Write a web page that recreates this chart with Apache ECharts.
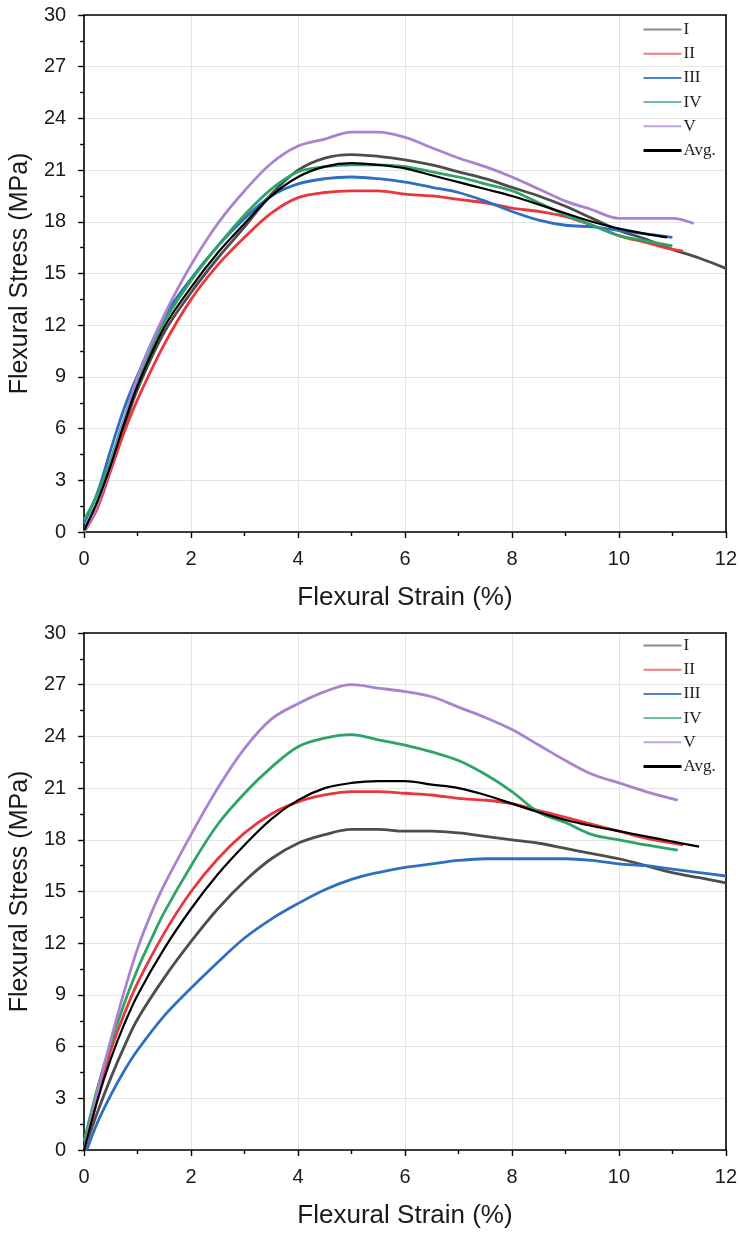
<!DOCTYPE html>
<html>
<head>
<meta charset="utf-8">
<script src="https://cdn.jsdelivr.net/npm/echarts@6/dist/echarts.min.js"></script>
<style>
html,body{margin:0;padding:0;background:#fff;}
#c{width:740px;height:1235px;}
</style>
</head>
<body>
<div id="c"></div>
<script>
// ---------- data ----------
const seriesNames = ['I', 'II', 'III', 'IV', 'V', 'Avg.'];
const xTicks = [0, 2, 4, 6, 8, 10, 12];
const yTicks = [0, 3, 6, 9, 12, 15, 18, 21, 24, 27, 30];

// Top panel: [strain %, stress MPa]
const top_I = [[0,0.1],[0.25,1.6],[0.5,3.7],[0.75,6.1],[1,8.3],[1.5,11.6],[2,13.9],[2.5,15.9],[3,17.7],[3.5,19.6],[4,21.0],[4.5,21.7],[5,21.9],[5.5,21.8],[6,21.6],[6.5,21.3],[7,20.9],[7.5,20.5],[8,20.0],[8.5,19.5],[9,18.9],[9.5,18.2],[10,17.5],[10.5,17.0],[11,16.4],[11.5,15.9],[12,15.3]];
const top_II = [[0,0],[0.25,1.4],[0.5,3.6],[0.75,5.8],[1,7.7],[1.5,10.9],[2,13.5],[2.5,15.5],[3,17.1],[3.5,18.5],[4,19.4],[4.5,19.7],[5,19.8],[5.5,19.8],[6,19.6],[6.5,19.5],[7,19.3],[7.5,19.1],[8,18.8],[8.5,18.6],[9,18.3],[9.5,17.8],[10,17.2],[10.5,16.8],[11,16.4],[11.2,16.3]];
const top_III = [[0,0.5],[0.25,2.3],[0.5,4.8],[0.75,7.2],[1,9.1],[1.5,12.5],[2,14.7],[2.5,16.6],[3,18.2],[3.5,19.5],[4,20.2],[4.5,20.5],[5,20.6],[5.5,20.5],[6,20.3],[6.5,20.0],[7,19.7],[7.5,19.2],[8,18.6],[8.5,18.1],[9,17.8],[9.5,17.7],[10,17.5],[10.5,17.3],[11,17.1]];
const top_IV = [[0,0.7],[0.25,2.2],[0.5,4.2],[0.75,6.6],[1,8.8],[1.5,12.2],[2,14.6],[2.5,16.6],[3,18.4],[3.5,19.9],[4,20.9],[4.5,21.2],[5,21.3],[5.5,21.3],[6,21.2],[6.5,20.9],[7,20.6],[7.5,20.2],[8,19.8],[8.5,19.1],[9,18.4],[9.5,17.8],[10,17.2],[10.5,16.9],[11,16.6]];
const top_V = [[0,0],[0.25,1.6],[0.5,3.9],[0.75,6.5],[1,9.0],[1.5,12.6],[2,15.5],[2.5,17.9],[3,19.8],[3.5,21.4],[4,22.4],[4.5,22.8],[5,23.2],[5.5,23.2],[6,22.9],[6.5,22.3],[7,21.7],[7.5,21.2],[8,20.6],[8.5,19.9],[9,19.2],[9.5,18.7],[10,18.2],[10.5,18.2],[11,18.2],[11.4,17.9]];
const top_avg = [[0,0.1],[0.25,1.8],[0.5,3.9],[0.75,6.3],[1,8.5],[1.5,11.9],[2,14.2],[2.5,16.2],[3,17.9],[3.5,19.5],[4,20.6],[4.5,21.2],[5,21.4],[5.5,21.3],[6,21.1],[6.5,20.7],[7,20.3],[7.5,19.9],[8,19.5],[8.5,19.0],[9,18.5],[9.5,18.0],[10,17.6],[10.5,17.3],[10.9,17.1]];

// Bottom panel
const bot_I = [[0,0],[0.25,2.2],[0.5,4.2],[0.75,6.0],[1,7.6],[1.5,10.0],[2,12.1],[2.5,14.0],[3,15.6],[3.5,16.9],[4,17.8],[4.5,18.3],[5,18.6],[5.5,18.6],[6,18.5],[6.5,18.5],[7,18.4],[7.5,18.2],[8,18.0],[8.5,17.8],[9,17.5],[9.5,17.2],[10,16.9],[10.5,16.5],[11,16.1],[11.5,15.8],[12,15.5]];
const bot_II = [[0,0],[0.25,3.0],[0.5,5.8],[0.75,7.9],[1,9.7],[1.5,12.6],[2,15.0],[2.5,16.9],[3,18.4],[3.5,19.5],[4,20.2],[4.5,20.6],[5,20.8],[5.5,20.8],[6,20.7],[6.5,20.6],[7,20.4],[7.5,20.3],[8,20.1],[8.5,19.7],[9,19.3],[9.5,18.9],[10,18.5],[10.5,18.1],[11,17.8],[11.2,17.7]];
const bot_III = [[0.05,0],[0.25,1.6],[0.5,3.2],[0.75,4.6],[1,5.8],[1.5,7.8],[2,9.4],[2.5,10.9],[3,12.3],[3.5,13.4],[4,14.3],[4.5,15.1],[5,15.7],[5.5,16.1],[6,16.4],[6.5,16.6],[7,16.8],[7.5,16.9],[8,16.9],[8.5,16.9],[9,16.9],[9.5,16.8],[10,16.6],[10.5,16.5],[11,16.3],[11.5,16.1],[12,15.9]];
const bot_IV = [[0,0.5],[0.25,3.6],[0.5,6.2],[0.75,8.5],[1,10.5],[1.25,12.2],[1.5,13.8],[2,16.5],[2.5,18.9],[3,20.7],[3.5,22.2],[4,23.4],[4.5,23.9],[5,24.1],[5.5,23.8],[6,23.5],[6.5,23.1],[7,22.6],[7.5,21.8],[8,20.8],[8.5,19.6],[9,19.0],[9.5,18.3],[10,18.0],[10.5,17.7],[11.1,17.4]];
const bot_V = [[0,0],[0.25,3.4],[0.5,6.4],[0.75,9.2],[1,11.7],[1.25,13.7],[1.5,15.4],[2,18.3],[2.5,21.0],[3,23.3],[3.5,25.0],[4,25.9],[4.5,26.6],[5,27.0],[5.5,26.8],[6,26.6],[6.5,26.3],[7,25.7],[7.5,25.1],[8,24.4],[8.5,23.5],[9,22.6],[9.5,21.8],[10,21.3],[10.5,20.8],[11.1,20.3]];
const bot_avg = [[0,0],[0.25,2.9],[0.5,5.3],[0.75,7.3],[1,9.0],[1.5,11.7],[2,14.0],[2.5,16.0],[3,17.7],[3.5,19.2],[4,20.3],[4.5,21.0],[5,21.3],[5.5,21.4],[6,21.4],[6.5,21.2],[7,21.0],[7.5,20.6],[8,20.1],[8.5,19.6],[9,19.15],[9.5,18.8],[10,18.5],[10.5,18.2],[11,17.9],[11.5,17.6]];

// ---------- style ----------
const colors = {'I':'#4d4d4d','II':'#e8383d','III':'#2f6fc2','IV':'#2ea468','V':'#a983d2','Avg.':'#000000'};
const legendColors = {'I':'#8c8c8c','II':'#ee7d80','III':'#4b83d0','IV':'#6cc294','V':'#c4a3e2','Avg.':'#000000'};
const SANS = "'Liberation Sans', Arial, sans-serif";
const SERIF = "'Liberation Serif', 'Times New Roman', serif";

const chart = echarts.init(document.getElementById('c'), null, {renderer: 'canvas'});

const grids = [
  {left: 82, top: 15, width: 644, height: 517},
  {left: 82, top: 633, width: 644, height: 517}
];

function mainX(gi) {
  return {
    type: 'value', gridIndex: gi, min: xTicks[0], max: xTicks[xTicks.length-1], interval: 2,
    position: 'bottom',
    name: 'Flexural Strain (%)', nameLocation: 'middle', nameGap: 53,
    nameTextStyle: {fontFamily: SANS, fontSize: 26, color: '#1a1a1a'},
    axisLine: {show: true, onZero: false, lineStyle: {color: '#000', width: 1.6}},
    axisTick: {show: true, inside: false, length: 6, lineStyle: {color: '#000', width: 1.4}},
    minorTick: {show: true, splitNumber: 2, length: 4, lineStyle: {color: '#000', width: 1.4}},
    axisLabel: {fontFamily: SANS, fontSize: 20, color: '#1a1a1a', margin: 17},
    splitLine: {show: true, lineStyle: {color: '#e4e4e4', width: 1}}
  };
}
function mainY(gi) {
  return {
    type: 'value', gridIndex: gi, min: yTicks[0], max: yTicks[yTicks.length-1], interval: 3,
    position: 'left',
    name: 'Flexural Stress (MPa)', nameLocation: 'middle', nameGap: 47,
    nameTextStyle: {fontFamily: SANS, fontSize: 25, color: '#1a1a1a'},
    axisLine: {show: true, onZero: false, lineStyle: {color: '#000', width: 1.6}},
    axisTick: {show: true, inside: false, length: 6, lineStyle: {color: '#000', width: 1.4}},
    minorTick: {show: true, splitNumber: 2, length: 4, lineStyle: {color: '#000', width: 1.4}},
    axisLabel: {fontFamily: SANS, fontSize: 20, color: '#1a1a1a', margin: 18},
    splitLine: {show: true, lineStyle: {color: '#e4e4e4', width: 1}}
  };
}
function frameAxis(type, gi, pos) {
  return {
    type: 'value', gridIndex: gi, position: pos, min: 0, max: type === 'x' ? 12 : 30,
    axisLine: {show: true, onZero: false, lineStyle: {color: '#000', width: 1.6}},
    axisTick: {show: false}, axisLabel: {show: false}, splitLine: {show: false}
  };
}

const panels = [
  [top_I, top_II, top_III, top_IV, top_V, top_avg],
  [bot_I, bot_II, bot_III, bot_IV, bot_V, bot_avg]
];

const series = [];
panels.forEach((set, gi) => {
  set.forEach((d, i) => {
    const nm = seriesNames[i];
    const isAvg = nm === 'Avg.';
    series.push({
      type: 'line', name: nm, data: d,
      xAxisIndex: gi * 2, yAxisIndex: gi * 2,
      symbol: 'none', showSymbol: false, smooth: 0.35,
      lineStyle: {color: colors[nm], width: isAvg ? 2.2 : 2.8},
      itemStyle: {color: colors[nm]},
      z: isAvg ? 5 : 3, silent: true, animation: false
    });
  });
});

function legendAt(top) {
  return {
    orient: 'vertical', left: 642, top: top, padding: 0,
    itemWidth: 38, itemHeight: 14, itemGap: 7.2,
    textStyle: {fontFamily: SERIF, fontSize: 17, color: '#222', padding: [0, 0, 0, -3]},
    data: seriesNames.map(n => ({
      name: n,
      itemStyle: {color: legendColors[n], opacity: 0, borderWidth: 0},
      lineStyle: {color: legendColors[n], width: n === 'Avg.' ? 3 : 2}
    })),
    selectedMode: false
  };
}

chart.setOption({
  animation: false,
  backgroundColor: '#ffffff',
  grid: grids,
  xAxis: [mainX(0), frameAxis('x', 0, 'top'), mainX(1), frameAxis('x', 1, 'top')],
  yAxis: [mainY(0), frameAxis('y', 0, 'right'), mainY(1), frameAxis('y', 1, 'right')],
  legend: [legendAt(21), legendAt(637)],
  series: series
});
</script>
</body>
</html>
